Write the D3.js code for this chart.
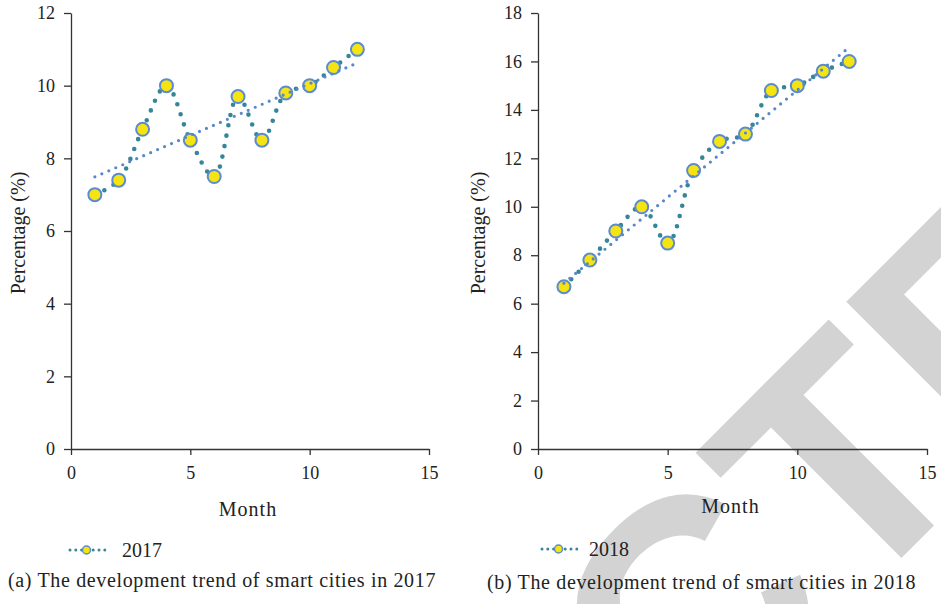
<!DOCTYPE html>
<html>
<head>
<meta charset="utf-8">
<script src="https://cdn.jsdelivr.net/npm/d3@7"></script>
<style>
  body { margin: 0; background: #fff; }
  svg { display: block; }
  text { font-family: "Liberation Serif", "Times New Roman", serif; fill: #222; }
</style>
</head>
<body>
<svg id="chart" width="941" height="604"></svg>
<script>
// Data
const months = [1, 2, 3, 4, 5, 6, 7, 8, 9, 10, 11, 12];
const values2017 = [7.0, 7.4, 8.8, 10.0, 8.5, 7.5, 9.7, 8.5, 9.8, 10.0, 10.5, 11.0];
const values2018 = [6.7, 7.8, 9.0, 10.0, 8.5, 11.5, 12.7, 13.0, 14.8, 15.0, 15.6, 16.0];
const xTicks = [0, 5, 10, 15];
const yTicks2017 = [0, 2, 4, 6, 8, 10, 12];
const yTicks2018 = [0, 2, 4, 6, 8, 10, 12, 14, 16, 18];
const captions = [
    "(a) The development trend of smart cities in 2017",
    "(b) The development trend of smart cities in 2018"
];

const SERIES_COLOR = "#36869a";
const TREND_COLOR = "#5a87c8";
const MARKER_FILL = "#f6e412";
const MARKER_STROKE = "#5b8bd0";
const AXIS_COLOR = "#333";

const svg = d3.select("#chart");

drawWatermark();

drawPanel({
    values: values2017, yTicks: yTicks2017, yMax: 12, name: "2017", caption: captions[0],
    left: 71, right: 429, titleX: 18, monthY: 516,
    legend: { x0: 70, x1: 106, y: 550, textX: 122 }, captionX: 8, captionY: 587
});

drawPanel({
    values: values2018, yTicks: yTicks2018, yMax: 18, name: "2018", caption: captions[1],
    left: 538, right: 927, titleX: 478, monthY: 513,
    legend: { x0: 542, x1: 578, y: 549, textX: 589 }, captionX: 487, captionY: 589
});

function drawPanel(cfg) {
    const top = 13, bottom = 449;
    const x = d3.scaleLinear().domain([0, 15]).range([cfg.left, cfg.right]);
    const y = d3.scaleLinear().domain([0, cfg.yMax]).range([bottom, top]);
    const g = svg.append("g");

    // axes
    const yAxis = g.append("g")
        .attr("transform", `translate(${cfg.left},0)`)
        .call(d3.axisLeft(y).tickValues(cfg.yTicks).tickSize(7).tickSizeOuter(0).tickPadding(9));
    const xAxis = g.append("g")
        .attr("transform", `translate(0,${bottom})`)
        .call(d3.axisBottom(x).tickValues(xTicks).tickSize(6).tickSizeOuter(0).tickPadding(11));
    [yAxis, xAxis].forEach(a => {
        a.selectAll("path, line").attr("stroke", AXIS_COLOR).attr("stroke-width", 1.3);
        a.selectAll("text").attr("font-size", 18).attr("fill", "#222");
    });

    // axis titles
    g.append("text")
        .attr("transform", `translate(${cfg.titleX},${(top + bottom) / 2 + 2}) rotate(-90)`)
        .attr("text-anchor", "middle").attr("dy", "0.35em")
        .attr("font-size", 20).text("Percentage (%)");
    g.append("text")
        .attr("x", (cfg.left + cfg.right) / 2 - 2).attr("y", cfg.monthY)
        .attr("text-anchor", "middle").attr("font-size", 20)
        .attr("letter-spacing", 1).text("Month");

    // smoothed series line
    const pts = months.map((m, i) => [m, cfg.values[i]]);
    const line = d3.line().x(d => x(d[0])).y(d => y(d[1])).curve(d3.curveCatmullRom.alpha(0.5));
    g.append("path").datum(pts)
        .attr("d", line)
        .attr("fill", "none").attr("stroke", SERIES_COLOR)
        .attr("stroke-width", 4.6).attr("stroke-linecap", "round")
        .attr("stroke-dasharray", "0 10.5");

    g.selectAll("circle.marker").data(pts).join("circle")
        .attr("class", "marker")
        .attr("cx", d => x(d[0])).attr("cy", d => y(d[1])).attr("r", 6.5)
        .attr("fill", MARKER_FILL).attr("stroke", MARKER_STROKE).attr("stroke-width", 2);

    // linear trend line (least squares)
    const mx = d3.mean(months), my = d3.mean(cfg.values);
    const slope = d3.sum(months, (m, i) => (m - mx) * (cfg.values[i] - my)) /
                  d3.sum(months, m => (m - mx) * (m - mx));
    const trend = [months[0], months[months.length - 1]].map(m => [m, my + slope * (m - mx)]);
    g.append("path").datum(trend)
        .attr("d", d3.line().x(d => x(d[0])).y(d => y(d[1])))
        .attr("fill", "none").attr("stroke", TREND_COLOR)
        .attr("stroke-width", 3.2).attr("stroke-linecap", "round")
        .attr("stroke-dasharray", "0 7.6");

    // legend
    const lg = cfg.legend;
    g.append("line")
        .attr("x1", lg.x0).attr("x2", lg.x1).attr("y1", lg.y).attr("y2", lg.y)
        .attr("stroke", SERIES_COLOR).attr("stroke-width", 3)
        .attr("stroke-linecap", "round").attr("stroke-dasharray", "0 5.8");
    g.append("circle")
        .attr("cx", (lg.x0 + lg.x1) / 2 - 1.5).attr("cy", lg.y).attr("r", 4)
        .attr("fill", MARKER_FILL).attr("stroke", MARKER_STROKE).attr("stroke-width", 1.5);
    g.append("text")
        .attr("x", lg.textX).attr("y", lg.y).attr("dy", "0.35em")
        .attr("font-size", 20).text(cfg.name);

    // caption
    g.append("text")
        .attr("x", cfg.captionX).attr("y", cfg.captionY)
        .attr("font-size", 20).attr("letter-spacing", 0.65).text(cfg.caption);
}

function drawWatermark() {
    // big grey diagonal stamp behind the charts; only "CTE" falls inside the picture
    const wm = svg.append("g").attr("transform", "rotate(-45)");
    const baseV = 1032, cStart = -63;
    const style = sel => sel
        .attr("y", baseV)
        .style("font-family", '"Liberation Sans", Arial, sans-serif')
        .style("font-weight", "bold").style("font-size", "320px")
        .style("fill", "#d3d3d3");
    wm.append("text").call(style).attr("x", cStart).attr("text-anchor", "end").text("RETRA");
    wm.append("text").call(style).attr("x", cStart).attr("text-anchor", "start").text("CTED");
}
</script>
</body>
</html>
